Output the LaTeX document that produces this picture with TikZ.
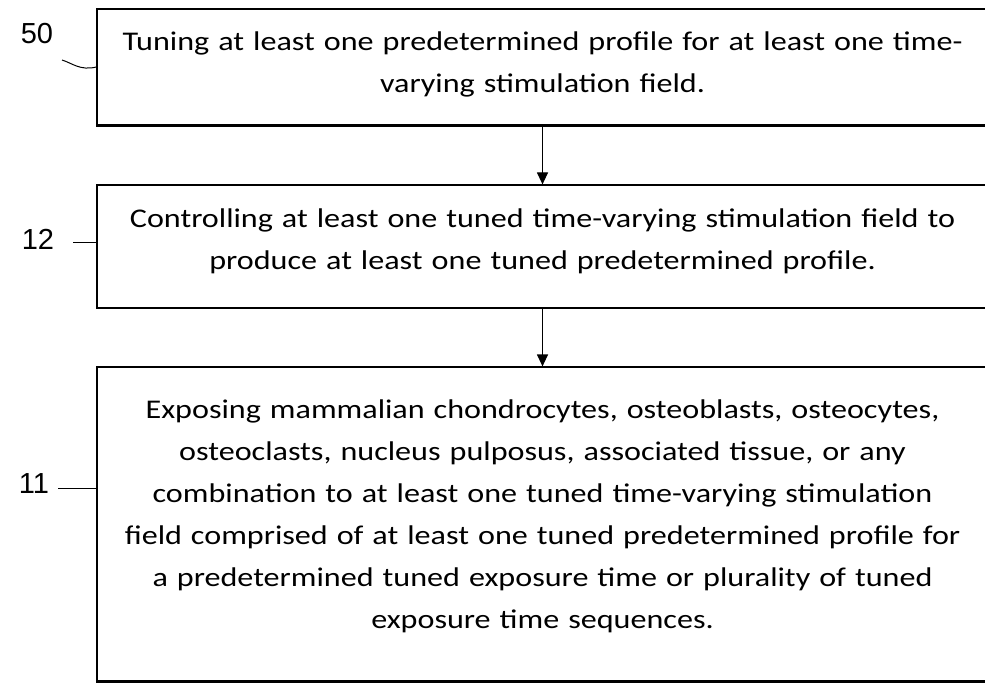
\documentclass[tikz,border=0pt]{standalone}
\usepackage{fontspec}
\setmainfont{Carlito}[FakeStretch=1.19]
\newfontfamily\labelfont{Liberation Sans}
\usetikzlibrary{arrows.meta}
\begin{document}
\begin{tikzpicture}[x=1bp,y=-1bp,
  stepbox/.style={draw, line width=1.2bp, rectangle, minimum width=891bp, inner sep=0pt},
  boxtext/.style={text width=885bp, align=center, inner sep=0pt, font=\fontsize{27bp}{42bp}\selectfont},
  reflabel/.style={font=\labelfont\fontsize{29bp}{32bp}\selectfont, inner sep=0pt},
  leader/.style={line width=1bp},
  thickedge/.style={line width=3bp},
  flow/.style={line width=1.2bp, -{Triangle[width=11bp,length=12bp]}}]
\useasboundingbox (0,0) rectangle (985,683);
\clip (0,0) rectangle (985,683);
\node[stepbox, minimum height=116bp] (b1) at (542.5,67) {};
\node[stepbox, minimum height=123bp] (b2) at (542.5,246.5) {};
\node[stepbox, minimum height=314bp] (b3) at (542.5,524) {};
\node[boxtext] (t1) at ([yshift=3bp]b1.center)
  {Tuning at least one predetermined profile for at least one time-\\varying stimulation field.};
\node[boxtext] (t2) at ([yshift=5bp]b2.center)
  {Controlling at least one tuned time-varying stimulation field to\\produce at least one tuned predetermined profile.};
\node[boxtext] (t3) at ([yshift=8bp]b3.center)
  {Exposing mammalian chondrocytes, osteoblasts, osteocytes,\\osteoclasts, nucleus pulposus, associated tissue, or any\\combination to at least one tuned time-varying stimulation\\field comprised of at least one tuned predetermined profile for\\a predetermined tuned exposure time or plurality of tuned\\exposure time sequences.};
\draw[thickedge] (b1.south west) -- (b1.south east);
\draw[thickedge] (b3.south west) -- (b3.south east);
\draw[flow] (b1.south) -- (b2.north);
\draw[flow] (b2.south) -- (b3.north);
\node[reflabel] (n50) at (37,34) {50};
\node[reflabel] (n12) at (38,239) {12};
\node[reflabel] (n11) at (34,484) {11};
\coordinate (l50) at (62,60);
\coordinate (l12) at (73,242);
\coordinate (l11) at (58,488);
\draw[leader] (l50) .. controls (72,63) and (80,71) .. (b1.west);
\draw[leader] (l12) -- (l12 -| b2.west);
\draw[leader] (l11) -- (l11 -| b3.west);
\end{tikzpicture}
\end{document}
